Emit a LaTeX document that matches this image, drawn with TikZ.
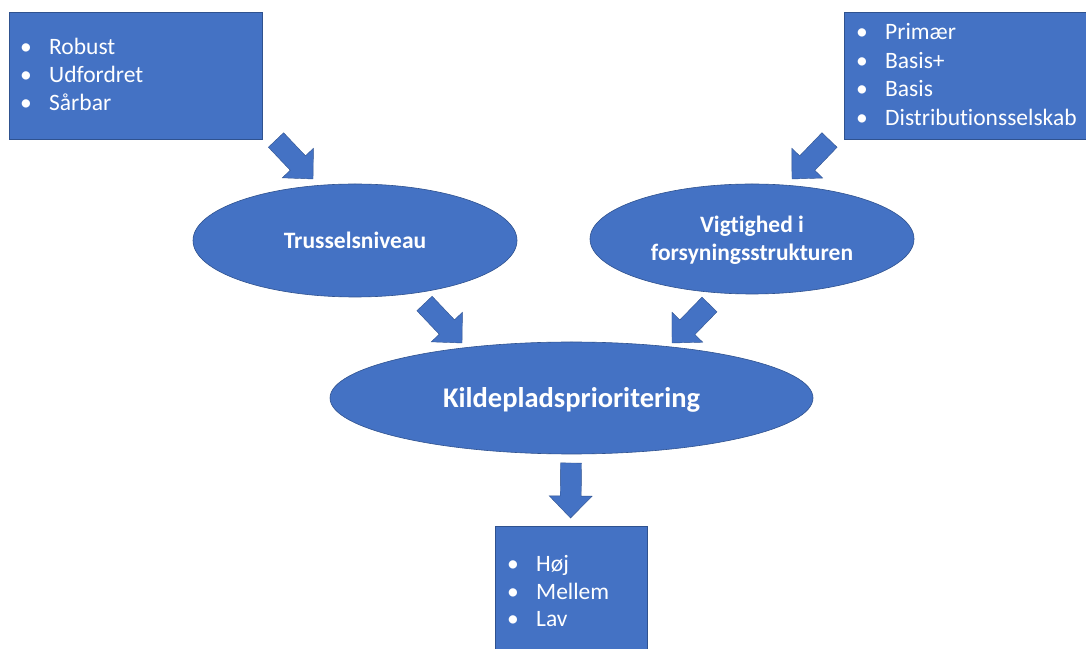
\documentclass[tikz,border=0pt]{standalone}
\usepackage{fontspec}
\setmainfont{Carlito}[Ligatures={NoCommon}]
\usetikzlibrary{shapes.geometric,calc}
\definecolor{blu}{HTML}{4472C4}
\definecolor{bluedge}{HTML}{2F528F}
\tikzset{
  box/.style={rectangle, fill=blu, draw=bluedge, line width=0.6pt, inner sep=0pt},
  oval/.style={ellipse, fill=blu, draw=bluedge, line width=0.6pt, inner sep=0pt},
  item/.style={text=white, inner sep=0pt, anchor=base west, font=\fontsize{23.5}{28.4}\selectfont},
  otext/.style={text=white, inner sep=0pt, align=center, font=\fontsize{23.5}{28.4}\selectfont\bfseries},
  barrow/.style={fill=blu, draw=bluedge, line width=0.4pt, line join=miter},
}
\newcommand{\bl}[1]{\makebox[29pt][l]{•}#1}
\newcommand{\blockarrow}[2]{%
  \coordinate (#1hb) at ($(#2)!22pt!(#1)$);
  \filldraw[barrow] ($(#1)!10.5pt!90:(#2)$) -- ($(#1hb)!10.5pt!90:(#2)$)
    -- ($(#1hb)!21.5pt!90:(#2)$) -- (#2) -- ($(#1hb)!21.5pt!-90:(#2)$)
    -- ($(#1hb)!10.5pt!-90:(#2)$) -- ($(#1)!10.5pt!-90:(#2)$) -- cycle;
}
\begin{document}
\begin{tikzpicture}[x=1pt,y=1pt]
\useasboundingbox[fill=white] (0,0) rectangle (1086,648);
% boxes
\node[box, minimum width=253pt, minimum height=127pt] (b1) at (135.5,572.5) {};
\node[box, minimum width=242pt, minimum height=127pt] (b2) at (965,572.5) {};
\node[box, minimum width=152pt, minimum height=124pt] (b3) at (571,60) {};
% box texts
\node[item] (r1) at (20,593.7) {\bl{Robust}};
\node[item] (r2) at (20,565.3) {\bl{Udfordret}};
\node[item] (r3) at (20,537) {\bl{Sårbar}};
\node[item] (p1) at (856,608) {\bl{Primær}};
\node[item] (p2) at (856,579.7) {\bl{Basis+}};
\node[item] (p3) at (856,551.3) {\bl{Basis}};
\node[item] (p4) at (856,522) {\bl{Distributionsselskab}};
\node[item] (h1) at (507,76.3) {\bl{Høj}};
\node[item] (h2) at (507,48.7) {\bl{Mellem}};
\node[item] (h3) at (507,22) {\bl{Lav}};
% ellipses
\node[oval, minimum width=324pt, minimum height=113pt] (e1) at (355,407.5) {};
\node[oval, minimum width=324pt, minimum height=110pt] (e2) at (752,409) {};
\node[oval, minimum width=483pt, minimum height=112pt] (e3) at (571.5,250) {};
\node[otext] (t1) at (e1.center) {Trusselsniveau};
\node[otext] (t2) at ($(e2.center)+(0,-1.5)$) {Vigtighed i\\forsyningsstrukturen};
\node[otext, font=\fontsize{28.5}{33}\selectfont\bfseries] (t3) at ($(e3.center)+(0,-1.5)$) {Kildepladsprioritering};
% block arrows
\coordinate (a1s) at (276,508);   \coordinate (a1e) at (313,469);
\coordinate (a2s) at (829.5,508); \coordinate (a2e) at (792,469);
\coordinate (a3s) at (424.5,344.5); \coordinate (a3e) at (462,305);
\coordinate (a4s) at (709.5,343.5); \coordinate (a4e) at (672,305);
\coordinate (a5s) at (571,185);   \coordinate (a5e) at (570.5,130);
\blockarrow{a1s}{a1e}
\blockarrow{a2s}{a2e}
\blockarrow{a3s}{a3e}
\blockarrow{a4s}{a4e}
\blockarrow{a5s}{a5e}
\end{tikzpicture}
\end{document}
